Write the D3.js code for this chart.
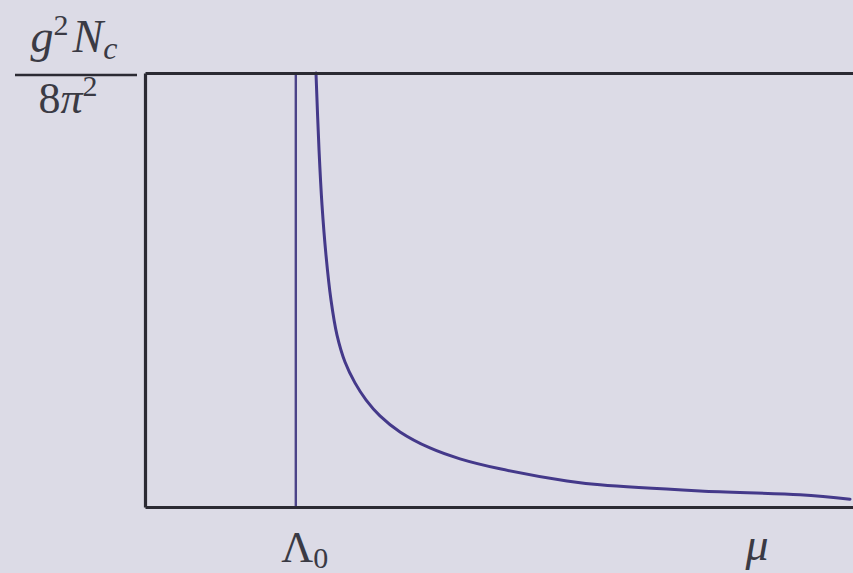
<!DOCTYPE html>
<html>
<head>
<meta charset="utf-8">
<script src="https://cdn.jsdelivr.net/npm/d3@7/dist/d3.min.js"></script>
<style>
  html, body { margin: 0; padding: 0; background: #dcdbe6; }
  svg { display: block; }
  text { font-family: "Liberation Serif", "DejaVu Serif", serif; fill: #3a3a44; }
</style>
</head>
<body>
<svg id="chart" width="853" height="573"></svg>
<script>
// Running coupling g²N_c/(8π²) against the scale μ, diverging at Λ0
const muValues = [24.15, 24.58, 25.0, 25.56, 26.27, 27.12, 28.25, 29.66, 31.21, 33.19, 36.02, 40.25, 44.49, 50.14, 59.6, 64.27, 78.39, 92.51, 99.58];
const couplingValues = [1.0, 0.823, 0.696, 0.581, 0.477, 0.396, 0.334, 0.286, 0.247, 0.210, 0.173, 0.136, 0.111, 0.088, 0.060, 0.051, 0.037, 0.028, 0.018];
const lambda0 = 21.3;
const xDomain = [0, 100];
const yDomain = [0, 1];

const svg = d3.select("#chart");
const W = 853, H = 573;
const margin = { left: 145, right: 0, top: 73, bottom: 66 };

const x = d3.scaleLinear().domain(xDomain).range([margin.left, W - margin.right]);
const y = d3.scaleLinear().domain(yDomain).range([H - margin.bottom, margin.top]);

const axisColor = "#2b2a33";
const curveColor = "#44398a";

// vertical marker at Λ0
svg.append("line")
  .attr("x1", x(lambda0)).attr("x2", x(lambda0))
  .attr("y1", y(1)).attr("y2", y(0))
  .attr("stroke", "#4b4388").attr("stroke-width", 2.4);

// coupling curve
const line = d3.line()
  .x((d, i) => x(muValues[i]))
  .y(d => y(d))
  .curve(d3.curveCatmullRom.alpha(0.5));

svg.append("path")
  .datum(couplingValues)
  .attr("d", line)
  .attr("fill", "none")
  .attr("stroke", curveColor)
  .attr("stroke-width", 3)
  .attr("stroke-linecap", "round");

// axes: bottom, left, and the upper bound line
const bottomAxis = d3.axisBottom(x).tickValues([]).tickSizeOuter(0);
const leftAxis = d3.axisLeft(y).tickValues([]).tickSizeOuter(0);
const topAxis = d3.axisTop(x).tickValues([]).tickSizeOuter(0);

[[bottomAxis, `translate(0,${y(0)})`], [leftAxis, `translate(${x(0)},0)`], [topAxis, `translate(0,${y(1)})`]]
  .forEach(([ax, tr]) => {
    const g = svg.append("g").attr("transform", tr).call(ax);
    g.select(".domain").attr("stroke", axisColor).attr("stroke-width", 3.2);
  });

// y label: g²N_c / 8π² as a stacked fraction
const fy = y(1);
const num = svg.append("text")
  .attr("x", 74).attr("y", fy - 21)
  .attr("text-anchor", "middle")
  .attr("font-size", 46)
  .attr("font-style", "italic");
num.append("tspan").text("g");
num.append("tspan").attr("font-size", 30).attr("dy", -17).attr("font-style", "normal").text("2");
num.append("tspan").attr("dy", 17).attr("dx", 4).text("N");
num.append("tspan").attr("font-size", 32).attr("dy", 7).text("c");

svg.append("line")
  .attr("x1", 15).attr("x2", 137)
  .attr("y1", fy + 2).attr("y2", fy + 2)
  .attr("stroke", axisColor).attr("stroke-width", 2.4);

const den = svg.append("text")
  .attr("x", 68).attr("y", fy + 40)
  .attr("text-anchor", "middle")
  .attr("font-size", 44);
den.append("tspan").text("8");
den.append("tspan").attr("font-style", "italic").text("π");
den.append("tspan").attr("font-size", 30).attr("dy", -17).text("2");

// x labels
const lam = svg.append("text")
  .attr("x", x(lambda0) + 9).attr("y", y(0) + 55)
  .attr("text-anchor", "middle")
  .attr("font-size", 44);
lam.append("tspan").text("Λ");
lam.append("tspan").attr("font-size", 30).attr("dy", 6).text("0");

svg.append("text")
  .attr("x", 757).attr("y", y(0) + 53)
  .attr("text-anchor", "middle")
  .attr("font-size", 46)
  .attr("font-style", "italic")
  .text("μ");
</script>
</body>
</html>
